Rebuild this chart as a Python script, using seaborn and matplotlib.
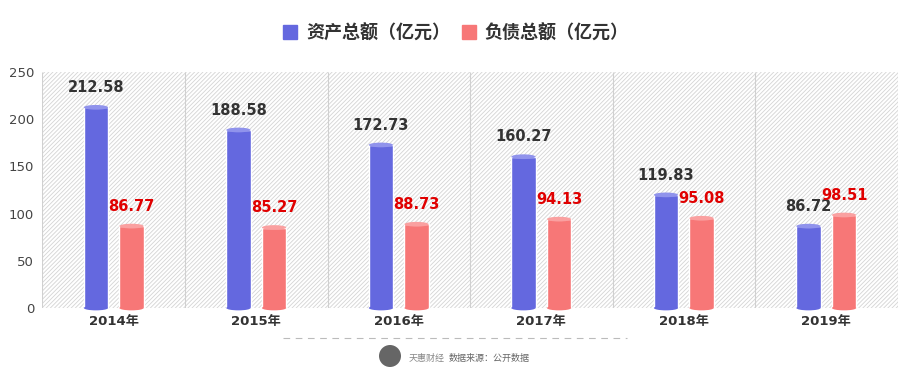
import pandas as pd
import seaborn as sns
import matplotlib.pyplot as plt
from matplotlib.patches import Ellipse, Rectangle
from matplotlib.lines import Line2D

# data
years = ["2014年", "2015年", "2016年", "2017年", "2018年", "2019年"]
assets = [212.58, 188.58, 172.73, 160.27, 119.83, 86.72]
debts = [86.77, 85.27, 88.73, 94.13, 95.08, 98.51]
series_names = ["资产总额（亿元）", "负债总额（亿元）"]

BLUE, BLUE_TOP = "#6468DF", "#9093EC"
RED, RED_TOP = "#F77777", "#FAA0A0"

df = pd.DataFrame({
    "year": years * 2,
    "value": assets + debts,
    "type": [series_names[0]] * len(years) + [series_names[1]] * len(years),
})

sns.set_theme(style="white")
plt.rcParams["font.family"] = ["DejaVu Sans", "Noto Sans CJK SC"]
plt.rcParams["hatch.linewidth"] = 0.6
CJK = ["Noto Sans CJK SC", "DejaVu Sans"]

fig = plt.figure(figsize=(9.1, 3.82), dpi=100)
ax = fig.add_axes([0.0467, 0.1937, 0.9396, 0.6178])

# hatched plot background
ax.add_patch(Rectangle((-0.5, 0), len(years), 250, facecolor="white",
                       edgecolor="#d4d4d4", hatch="////////", lw=0, zorder=0))

sns.barplot(data=df, x="year", y="value", hue="type", palette=[BLUE, RED],
            width=0.5, gap=0.32, ax=ax, legend=False, saturation=1, zorder=2)

# cylinder caps
for bar in ax.patches:
    if not isinstance(bar, Rectangle) or bar.get_width() > 1:
        continue
    x, w, h = bar.get_x(), bar.get_width(), bar.get_height()
    col = bar.get_facecolor()
    top = BLUE_TOP if abs(col[0] - 0.39) < 0.05 else RED_TOP
    ax.add_patch(Ellipse((x + w / 2, 0), w, 5, facecolor=col, lw=0, zorder=2, clip_on=False))
    ax.add_patch(Ellipse((x + w / 2, h), w, 5, facecolor=top, lw=0, zorder=3))

for i, (a, d) in enumerate(zip(assets, debts)):
    ax.text(i - 0.125, a + 21, f"{a:.2f}", ha="center", va="center",
            fontsize=10.5, fontweight="bold", color="#333333", zorder=4)
    ax.text(i + 0.125, d + 21, f"{d:.2f}", ha="center", va="center",
            fontsize=10.5, fontweight="bold", color="#E00000", zorder=4)

ax.vlines([i + 0.5 for i in range(-1, len(years))], 0, 250,
          color="#d0d0d0", lw=0.8, zorder=1)

ax.set_xlim(-0.5, len(years) - 0.5)
ax.set_ylim(0, 250)
ax.set_yticks(range(0, 251, 50))
ax.set_xlabel("")
ax.set_ylabel("")
ax.tick_params(axis="y", labelsize=9.5, labelcolor="#444444", pad=6, length=0)
ax.tick_params(axis="x", labelsize=9.5, labelcolor="#333333", pad=5, length=0)
for lab in ax.get_xticklabels():
    lab.set_fontweight("bold")
sns.despine(ax=ax, left=True, bottom=True)

handles = [Line2D([], [], marker="s", ls="", color=c, markersize=10) for c in (BLUE, RED)]
fig.legend(handles, series_names, loc="center", bbox_to_anchor=(0.5, 1 - 33 / 382),
           ncol=2, frameon=False, prop={"family": CJK, "size": 13, "weight": "bold"},
           handlelength=1.0, handletextpad=0.4, columnspacing=0.5, labelcolor="#333333")

# footer
fig.add_artist(Line2D([283 / 910, 627 / 910], [1 - 338 / 382] * 2,
                      ls=(0, (6, 5)), color="#bbbbbb", lw=0.8))
fig.add_artist(Ellipse((390 / 910, 1 - 356 / 382), 22 / 910, 22 / 382,
                       transform=fig.transFigure, facecolor="#666666", lw=0))
fig.text(409 / 910, 1 - 358 / 382, "天惠财经", family=CJK, fontsize=6.5,
         color="#888888", va="center")
fig.text(449 / 910, 1 - 358 / 382, "数据来源：公开数据", family=CJK, fontsize=6.5,
         color="#666666", va="center")

fig.savefig("out.png", dpi=100, facecolor="white")
